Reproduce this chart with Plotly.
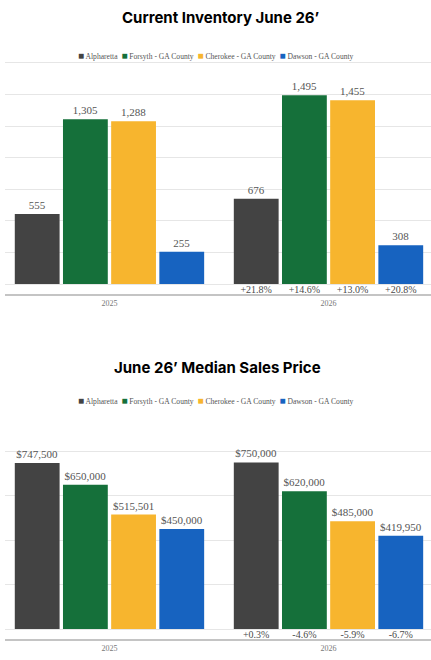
import plotly.graph_objects as go

YEARS = ["2025", "2026"]
COUNTIES = ["Alpharetta", "Forsyth - GA County", "Cherokee - GA County", "Dawson - GA County"]
COLORS = ["#434343", "#15703a", "#f7b52e", "#1763c0"]

inventory_2025 = [555, 1305, 1288, 255]
inventory_2026 = [676, 1495, 1455, 308]
inventory_change = ["+21.8%", "+14.6%", "+13.0%", "+20.8%"]

price_2025 = [747500, 650000, 515501, 450000]
price_2026 = [750000, 620000, 485000, 419950]
price_change = ["+0.3%", "-4.6%", "-5.9%", "-6.7%"]

BARGAP = 0.12
SLOT = (1 - BARGAP) / len(COUNTIES)
SERIF = "Liberation Serif, Times New Roman, serif"


def add_chart(fig, xa, ya, v25, v26, changes, fmt, change_y):
    for i, name in enumerate(COUNTIES):
        fig.add_trace(go.Bar(
            x=[0, 1], y=[v25[i], v26[i]], name=name,
            marker=dict(color=COLORS[i], line=dict(width=0)),
            texttemplate=fmt, textposition="outside",
            textfont=dict(family=SERIF, size=11, color="#555"),
            cliponaxis=False, showlegend=False,
            xaxis=xa, yaxis=ya,
        ))
    # change labels under the 2026 bars
    fig.add_trace(go.Scatter(
        x=[1 + (i - 1.5) * SLOT for i in range(len(COUNTIES))],
        y=[change_y] * len(COUNTIES), text=changes, mode="text",
        textfont=dict(family=SERIF, size=10, color="#4a4a4a"),
        cliponaxis=False, showlegend=False, hoverinfo="skip",
        xaxis=xa, yaxis=ya,
    ))


fig = go.Figure()
add_chart(fig, "x", "y", inventory_2025, inventory_2026, inventory_change, "%{y:,}", -55)
add_chart(fig, "x2", "y2", price_2025, price_2026, price_change, "$%{y:,}", -27000)

xcommon = dict(
    tickvals=[0, 1], ticktext=YEARS, range=[-0.477, 1.468], domain=[0.0116, 1],
    showline=True, linecolor="#c4c4c4", linewidth=2, showgrid=False, zeroline=False,
    ticks="", tickfont=dict(family=SERIF, size=8, color="#777"), fixedrange=True,
)
ycommon = dict(showticklabels=False, gridcolor="#e6e6e6", gridwidth=1,
               zeroline=False, showline=False, ticks="", fixedrange=True)

legend_text = "  ".join(
    f"<span style='color:{c};font-size:10px'>■</span> {n}" for n, c in zip(COUNTIES, COLORS)
)


def note(text, x, y, font):
    return dict(text=text, x=x, y=1 - y / 660, xref="paper", yref="paper",
                xanchor="center", yanchor="middle", showarrow=False, font=font)


title_font = dict(family="Inter, sans-serif", size=15, color="#000")
legend_font = dict(family=SERIF, size=7.6, color="#555")

fig.update_layout(
    width=431, height=660,
    margin=dict(l=0, r=0, t=0, b=0),
    paper_bgcolor="white", plot_bgcolor="white",
    barmode="group", bargap=BARGAP, bargroupgap=0.07,
    xaxis=dict(anchor="y", **xcommon),
    xaxis2=dict(anchor="y2", **xcommon),
    yaxis=dict(domain=[0.5545, 0.9061], range=[-79, 1758],
               tickvals=list(range(0, 1751, 250)), **ycommon),
    yaxis2=dict(domain=[0.0318, 0.3848], range=[-45000, 1004000],
                tickvals=list(range(0, 1000001, 200000)), **ycommon),
    annotations=[
        note("<b>Current Inventory June 26’</b>", 0.512, 18, title_font),
        note("<b>June 26’ Median Sales Price</b>", 0.505, 367, title_font),
        note(legend_text, 0.502, 55, legend_font),
        note(legend_text, 0.502, 400, legend_font),
    ],
)

fig.write_html("out.html", config={"displayModeBar": False},
               post_script="document.body.style.margin='0';")
